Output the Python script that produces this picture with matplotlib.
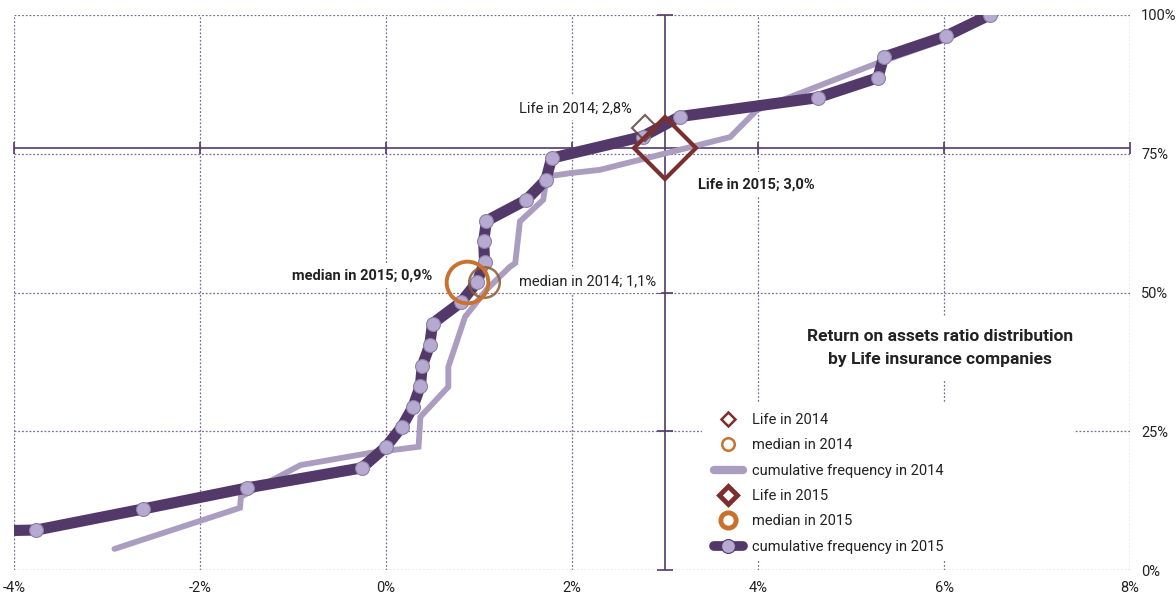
import matplotlib.pyplot as plt
from matplotlib.lines import Line2D
from matplotlib.patches import Rectangle

plt.rcParams['font.family'] = ['Roboto', 'DejaVu Sans']
plt.rcParams['axes.unicode_minus'] = False

# cumulative distribution of ROA, 2015 (first point lies off the left edge)
roa_2015 = [-15.0, -3.76, -2.61, -1.49, -0.26, 0.0, 0.17, 0.29, 0.37, 0.39, 0.47,
            0.50, 0.81, 0.98, 1.06, 1.05, 1.08, 1.51, 1.72, 1.78, 2.76, 3.16,
            4.64, 5.29, 5.35, 6.02, 6.49]
cum_2015 = [3.7, 7.2, 11.0, 14.8, 18.4, 22.2, 25.8, 29.4, 33.2, 36.8, 40.5,
            44.4, 48.3, 51.9, 55.5, 59.2, 62.9, 66.7, 70.3, 74.2, 78.1, 81.7,
            85.1, 88.7, 92.4, 96.2, 100.0]

# cumulative distribution of ROA, 2014
roa_2014 = [-2.92, -1.57, -1.56, -0.92, -0.17, 0.35, 0.37, 0.67, 0.67, 0.85,
            1.08, 1.33, 1.39, 1.44, 1.69, 1.73, 1.98, 2.30, 3.70, 3.99, 5.31,
            6.03, 6.48]
cum_2014 = [3.8, 11.2, 13.2, 18.9, 21.1, 22.2, 27.6, 33.0, 36.6, 45.6,
            50.5, 54.6, 55.3, 62.8, 66.7, 70.9, 71.5, 72.1, 78.0, 82.9, 91.5,
            95.7, 99.6]

life_2014 = (2.78, 79.6)
life_2015 = (3.0, 76.0)
median_2014 = (1.05, 51.9)
median_2015 = (0.87, 51.9)

x_ticks = [-4, -2, 0, 2, 4, 6, 8]
y_ticks = [0, 25, 50, 75, 100]

dark = '#52396a'
light = '#ab9dbf'
dot = '#b6aad2'
red = '#7b2f2f'
orange = '#c8722e'
grid_c = '#7d6c93'
txt = '#222222'

fig = plt.figure(figsize=(11.76, 5.97), dpi=100)
ax = fig.add_axes([14 / 1176, 27 / 597, 1116 / 1176, 555 / 597])
ax.set_xlim(-4, 8)
ax.set_ylim(0, 100)
for s in ax.spines.values():
    s.set_visible(False)

ax.set_axisbelow(True)
ax.set_xticks(x_ticks)
ax.set_xticklabels([f'{v}%' for v in x_ticks])
ax.set_yticks(y_ticks)
ax.set_yticklabels([f'{v}%' for v in y_ticks])
ax.yaxis.tick_right()
ax.tick_params(length=0, labelsize=10.5, labelcolor=txt)
ax.tick_params(axis='x', pad=8)
ax.tick_params(axis='y', pad=8)
ax.grid(True, color=grid_c, lw=0.9, linestyle=(0, (1.5, 1.5)))

# crossing axes through the 2015 Life point
ax.axvline(life_2015[0], color=dark, lw=1.2, zorder=1.2)
ax.axhline(life_2015[1], color=dark, lw=1.2, zorder=1.2)
ax.plot([life_2015[0]] * len(y_ticks), y_ticks, ls='none', marker='_', ms=11,
        mew=1.2, color=dark, zorder=1.2, clip_on=False)
ax.plot(x_ticks, [life_2015[1]] * len(x_ticks), ls='none', marker='|', ms=8,
        mew=1.2, color=dark, zorder=1.2, clip_on=False)

# white backing behind the legend
ax.add_patch(Rectangle((0.6165, 0.018), 0.334, 0.283, transform=ax.transAxes,
                       facecolor='white', edgecolor='none', zorder=1.1))

ax.plot(roa_2014, cum_2014, color=light, lw=4.2, solid_joinstyle='miter',
        solid_capstyle='round', zorder=2)
ax.plot(roa_2015, cum_2015, color=dark, lw=8, solid_joinstyle='round', zorder=3,
        marker='o', ms=10, mfc=dot, mec='#8d80a6', mew=0.8)

ax.plot(*life_2014, marker='D', ms=13, mfc='none', mec='#5d4038', mew=1.5,
        alpha=0.85, zorder=4)
ax.plot(*median_2014, marker='o', ms=22, mfc='none', mec='#8a5a36', mew=1.8,
        alpha=0.85, zorder=4)
ax.plot(*median_2015, marker='o', ms=30, mfc='none', mec=orange, mew=2.8, zorder=5)
ax.plot(*life_2015, marker='D', ms=32, mfc='none', mec=red, mew=3.0, zorder=5)

box = dict(boxstyle='square,pad=0.35', facecolor='white', edgecolor='none')
ax.text(2.645, 83.2, 'Life in 2014; 2,8%', ha='right', va='center', fontsize=10.5,
        color=txt, bbox=box, zorder=3.5)
ax.text(3.355, 69.5, 'Life in 2015; 3,0%', ha='left', va='center', fontsize=10.5,
        fontweight='bold', color=txt, bbox=box, zorder=3.5)
ax.text(0.495, 53.0, 'median in 2015; 0,9%', ha='right', va='center', fontsize=10.5,
        fontweight='bold', color=txt, bbox=box, zorder=3.5)
ax.text(1.43, 52.1, 'median in 2014; 1,1%', ha='left', va='center', fontsize=10.5,
        color=txt, bbox=box, zorder=3.5)

ax.text(5.96, 40.0, 'Return on assets ratio distribution\nby Life insurance companies',
        ha='center', va='center', multialignment='center', fontsize=12.5,
        fontweight='bold', color=txt, linespacing=1.6,
        bbox=dict(boxstyle='square,pad=0.8', facecolor='white', edgecolor='none'),
        zorder=3.5)

handles = [
    Line2D([], [], ls='none', marker='D', ms=7, mfc='white', mec=red, mew=1.8),
    Line2D([], [], ls='none', marker='o', ms=9, mfc='white', mec=orange, mew=1.8),
    Line2D([], [], color=light, lw=6, solid_capstyle='round'),
    Line2D([], [], ls='none', marker='D', ms=9, mfc='white', mec=red, mew=3.5),
    Line2D([], [], ls='none', marker='o', ms=11, mfc='white', mec=orange, mew=3.5),
    Line2D([], [], color=dark, lw=7, solid_capstyle='round', marker='o', ms=10,
           mfc=dot, mec=dark, mew=0.8),
]
labels = ['Life in 2014', 'median in 2014', 'cumulative frequency in 2014',
          'Life in 2015', 'median in 2015', 'cumulative frequency in 2015']
leg = ax.legend(handles, labels, loc='upper left', bbox_to_anchor=(0.623, 0.291),
                frameon=False, fontsize=10.5, handlelength=2.0, handletextpad=0.65,
                labelspacing=0.78, borderaxespad=0, borderpad=0.3)
for t in leg.get_texts():
    t.set_color(txt)
leg.set_zorder(6)

fig.savefig('out.png', dpi=100)
